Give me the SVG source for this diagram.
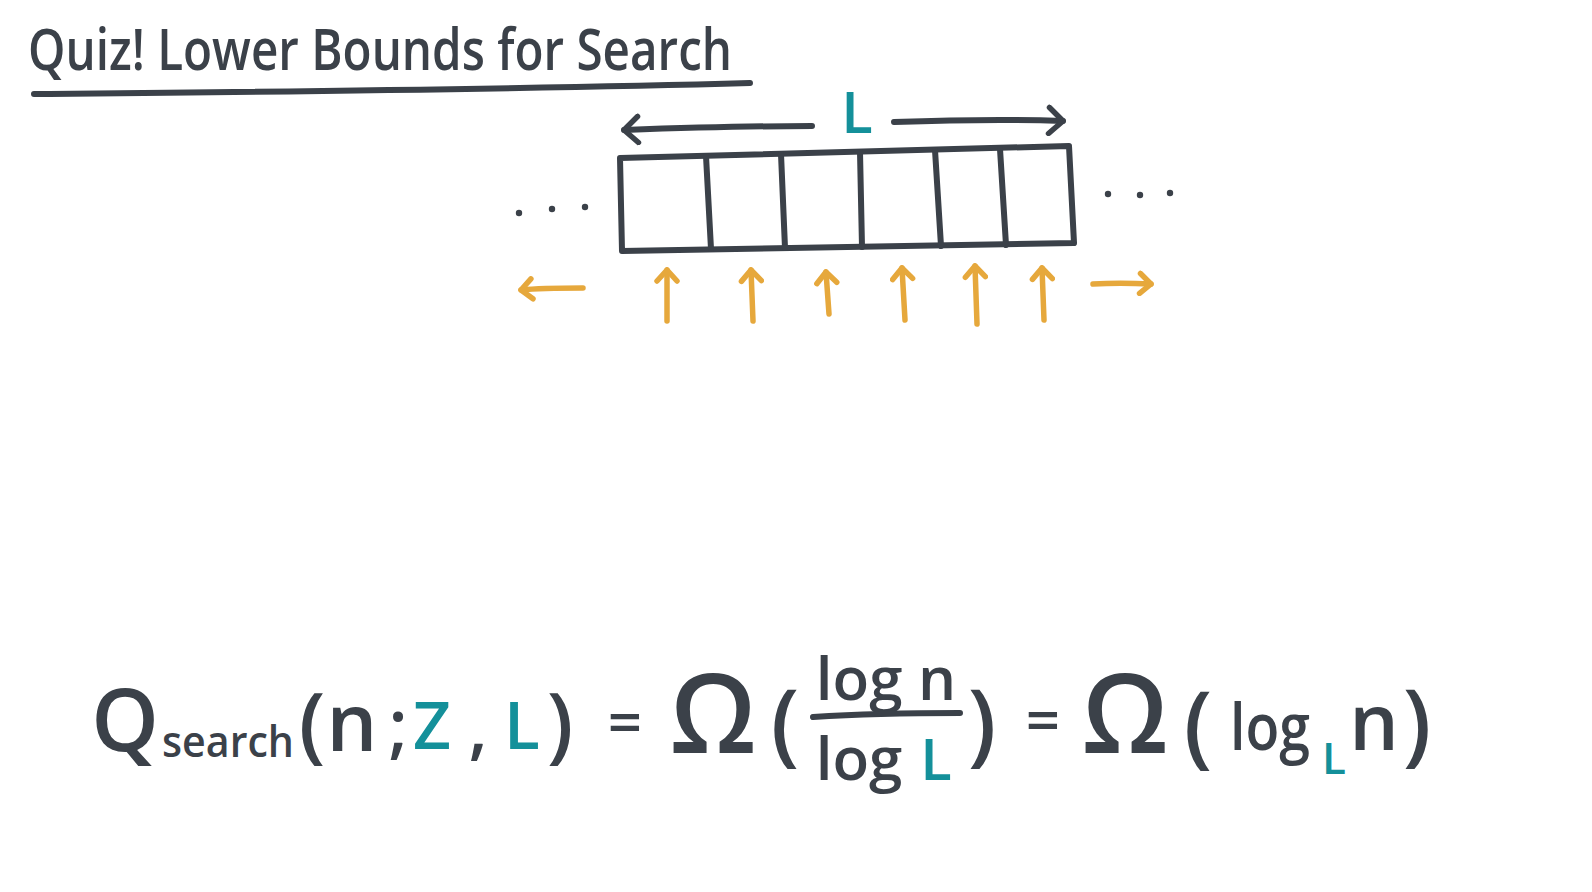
<svg xmlns="http://www.w3.org/2000/svg" width="1592" height="892" viewBox="0 0 1592 892">
<style>
.ink{fill:none;stroke:#3b4149;stroke-width:6;stroke-linecap:round;stroke-linejoin:round}
.or{fill:none;stroke:#e6a83c;stroke-width:5.5;stroke-linecap:round;stroke-linejoin:round}
.t{font-family:"Open Sans","DejaVu Sans",sans-serif;fill:#3b4149;font-weight:600}
.teal{fill:#14909a}
.dot{fill:#3b4149}
</style>
<defs>
<marker id="ah" markerUnits="userSpaceOnUse" markerWidth="24" markerHeight="32" refX="18" refY="16" orient="auto-start-reverse" viewBox="0 0 24 32">
<path d="M4,3 L18,16 L4,29" fill="none" stroke="#3b4149" stroke-width="5.5" stroke-linecap="round" stroke-linejoin="round"/>
</marker>
<marker id="oh" markerUnits="userSpaceOnUse" markerWidth="20" markerHeight="26" refX="15" refY="13" orient="auto-start-reverse" viewBox="0 0 20 26">
<path d="M4,3 L15,13 L4,23" fill="none" stroke="#e6a83c" stroke-width="5.5" stroke-linecap="round" stroke-linejoin="round"/>
</marker>
</defs>
<rect width="1592" height="892" fill="#ffffff"/>

<g id="title">
<text class="t" x="28" y="70" font-size="58" textLength="704" lengthAdjust="spacingAndGlyphs">Quiz! Lower Bounds for Search</text>
<path class="ink" d="M34,94 C250,92 500,90 750,83"/>
</g>

<g id="array">
<path class="ink" d="M620,158 L1069,146 L1074,243 L622,251 Z"/>
<path class="ink" d="M706,156 L711,249"/>
<path class="ink" d="M781,154 L785,248"/>
<path class="ink" d="M860,152 L862,247"/>
<path class="ink" d="M935,150 L941,246"/>
<path class="ink" d="M1000,149 L1006,245"/>
<circle class="dot" cx="519" cy="213" r="3.2"/>
<circle class="dot" cx="552" cy="209" r="3.2"/>
<circle class="dot" cx="585" cy="207" r="3.2"/>
<circle class="dot" cx="1108" cy="194" r="3.2"/>
<circle class="dot" cx="1140" cy="195" r="3.2"/>
<circle class="dot" cx="1170" cy="193" r="3.2"/>
</g>

<g id="length-label">
<text class="t teal" x="857" y="133" font-size="58" text-anchor="middle">L</text>
</g>

<g id="connectors">
<path class="ink" d="M812,126 C740,126 680,128 624,130" marker-end="url(#ah)"/>
<path class="ink" d="M894,122 C950,120 1010,119 1063,121" marker-end="url(#ah)"/>
<path class="or" d="M583,288 C560,288 540,288 521,290" marker-end="url(#oh)"/>
<path class="or" d="M667,321 L667,270" marker-end="url(#oh)"/>
<path class="or" d="M753,321 L751,270" marker-end="url(#oh)"/>
<path class="or" d="M829,314 L826,272" marker-end="url(#oh)"/>
<path class="or" d="M905,320 L902,268" marker-end="url(#oh)"/>
<path class="or" d="M977,324 L975,266" marker-end="url(#oh)"/>
<path class="or" d="M1044,320 L1042,268" marker-end="url(#oh)"/>
<path class="or" d="M1093,284 C1110,283 1130,283 1151,284" marker-end="url(#oh)"/>
</g>

<g id="formula">
<text class="t" x="125" y="751" font-size="86" text-anchor="middle">Q</text>
<text class="t" x="162" y="757" font-size="44" textLength="132" lengthAdjust="spacingAndGlyphs">search</text>
<text class="t" x="312" y="753" font-size="84" text-anchor="middle">(</text>
<text class="t" x="352" y="751" font-size="80" text-anchor="middle">n</text>
<text class="t" x="398" y="750" font-size="70" text-anchor="middle">;</text>
<text class="t teal" x="432" y="749" font-size="66" text-anchor="middle">Z</text>
<text class="t" x="478" y="752" font-size="70" text-anchor="middle">,</text>
<text class="t teal" x="522" y="749" font-size="66" text-anchor="middle">L</text>
<text class="t" x="560" y="753" font-size="84" text-anchor="middle">)</text>
<text class="t" x="625" y="744" font-size="60" text-anchor="middle">=</text>
<text class="t" x="713" y="753" font-size="110" text-anchor="middle">Ω</text>
<text class="t" x="785" y="755" font-size="90" text-anchor="middle">(</text>
<text class="t" x="886" y="700" font-size="60" text-anchor="middle">log n</text>
<path class="ink" d="M813,717 C860,714 910,713 960,713"/>
<text class="t" x="859" y="780" font-size="60" text-anchor="middle">log</text>
<text class="t teal" x="936" y="780" font-size="58" text-anchor="middle">L</text>
<text class="t" x="982" y="755" font-size="90" text-anchor="middle">)</text>
<text class="t" x="1043" y="742" font-size="60" text-anchor="middle">=</text>
<text class="t" x="1125" y="753" font-size="110" text-anchor="middle">Ω</text>
<text class="t" x="1198" y="757" font-size="90" text-anchor="middle">(</text>
<text class="t" x="1230" y="750" font-size="66" textLength="80" lengthAdjust="spacingAndGlyphs">log</text>
<text class="t teal" x="1334" y="774" font-size="44" text-anchor="middle">L</text>
<text class="t" x="1374" y="750" font-size="78" text-anchor="middle">n</text>
<text class="t" x="1417" y="755" font-size="90" text-anchor="middle">)</text>
</g>
</svg>
